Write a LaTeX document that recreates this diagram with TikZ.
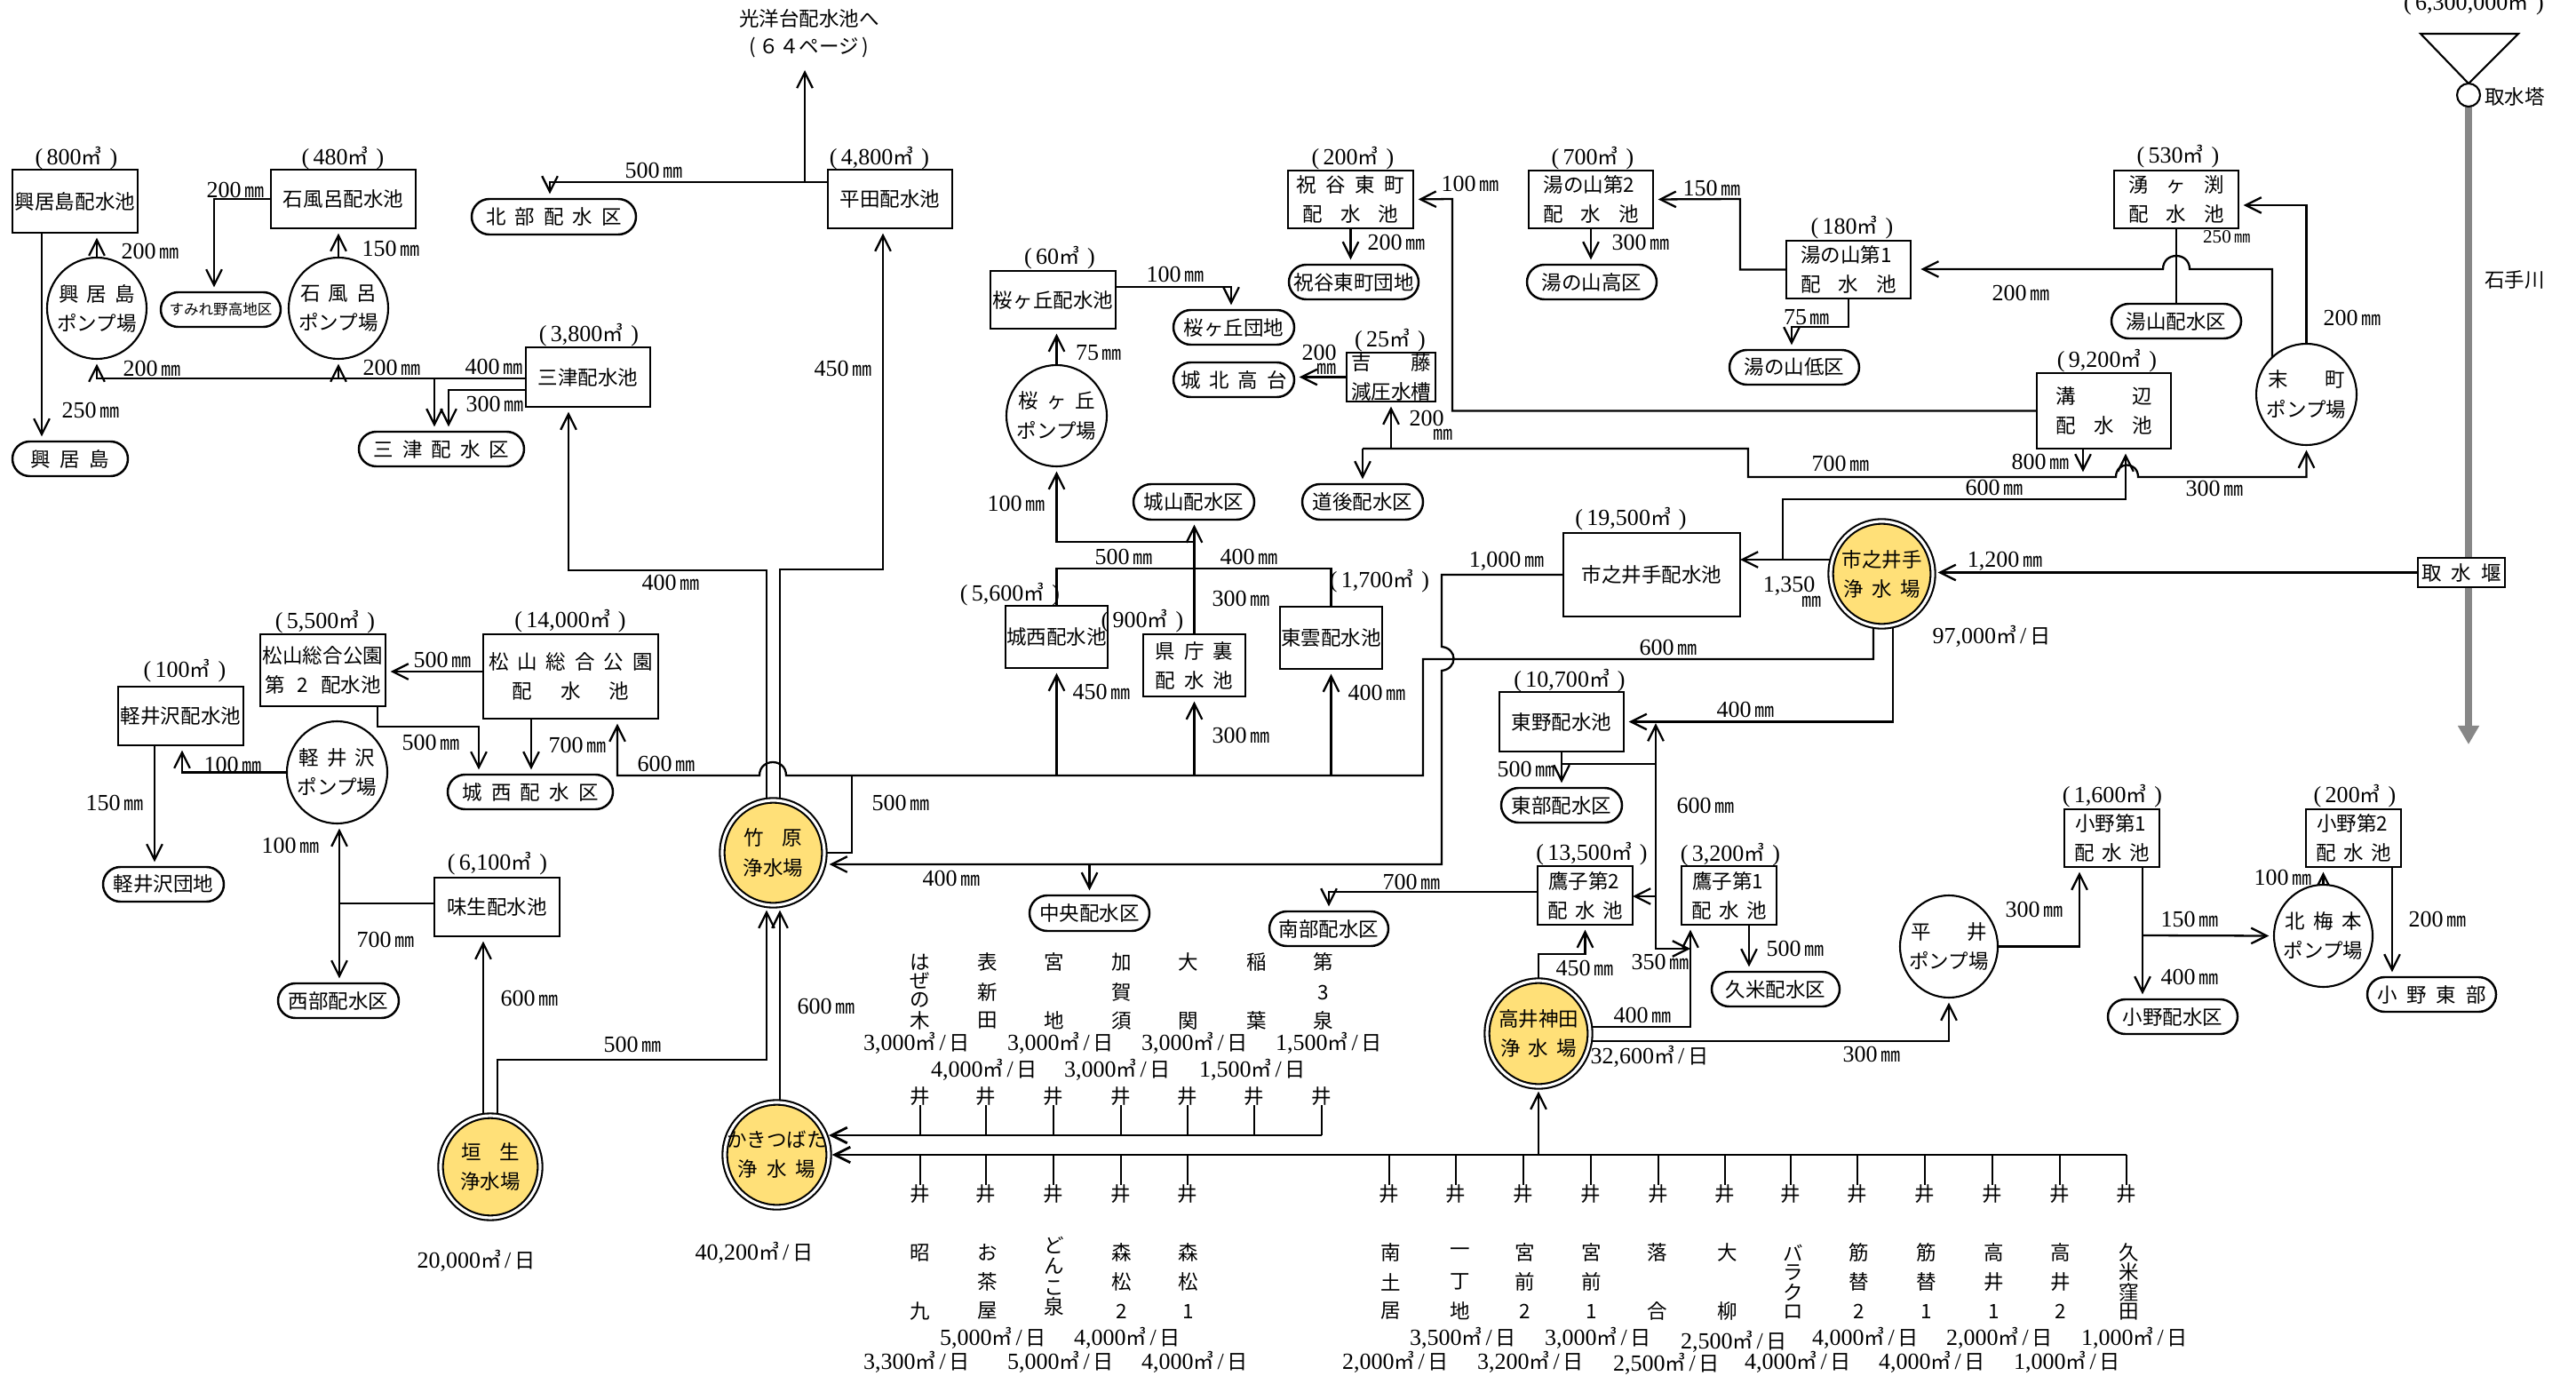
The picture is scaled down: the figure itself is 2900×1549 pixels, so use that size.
\documentclass[tikz,border=0pt]{standalone}
\usepackage{fontspec}
\setmainfont{Noto Sans CJK JP}
\newfontfamily\numf{Liberation Serif}
\usetikzlibrary{arrows.meta,shapes.geometric,shapes.misc,backgrounds}
\newlength\upx \setlength\upx{0.01cm}
\newcommand\Nn[1]{{\fontsize{7.4}{9}\selectfont\numf #1}}
\newcommand\Mmm[1]{\Nn{#1}\,{\fontsize{6.3}{9}\selectfont ㎜}}
\newcommand\Vl[1]{\Nn{(\,#1}{\fontsize{6.6}{9}\selectfont ㎥}\Nn{\,\,)}}
\newcommand\Pd[1]{\Nn{#1}{\fontsize{6.6}{9}\selectfont ㎥}\,\Nn{/}\,{\fontsize{6.6}{9}\selectfont 日}}
\newcommand\Sj[2]{\makebox[#1\upx][s]{#2}}
\newcounter{lbc}
\newcommand\Lb[3]{\stepcounter{lbc}\node[lab] (lab\arabic{lbc}) at (#1,#2) {#3};}
\newcommand\Shp[7]{%
  \pgfmathsetmacro\Qx{(#3+#5)/2}\pgfmathsetmacro\Qy{(#4+#6)/2}%
  \pgfmathsetmacro\Qw{(#5-#3)*0.01}\pgfmathsetmacro\Qh{(#6-#4)*0.01}%
  \node[#1,minimum width=\Qw cm,minimum height=\Qh cm] (#2) at (\Qx,\Qy) {#7};}
\tikzset{
  base/.style={inner sep=0pt,outer sep=0pt,align=center,font=\fontsize{6.4}{9.4}\selectfont},
  tank/.style={base,draw,rectangle,line width=0.7pt,fill=white},
  pumpst/.style={base,draw,ellipse,line width=0.6pt,fill=white,inner xsep=-8pt,inner ysep=-4pt},
  pill/.style={base,draw,rounded rectangle,line width=0.7pt,fill=white},
  plant/.style={base,draw,ellipse,line width=0.6pt,double=white,double distance=0.9pt,fill=plantyellow,inner xsep=-8pt,inner ysep=-4pt},
  lab/.style={inner sep=0pt,outer sep=0pt,align=center,font=\fontsize{6.4}{9.4}\selectfont},
  pipe/.style={line width=0.65pt},
  arr/.style={pipe,-{Straight Barb[length=5pt,width=5pt]},shorten >=1.6pt},
  arrz/.style={arr,shorten >=0pt},
  wellline/.style={line width=0.45pt},
  main/.style={line width=0.8pt},
  river/.style={line width=2.5pt,draw=rivergray},
}
\definecolor{plantyellow}{RGB}{255,224,120}
\definecolor{rivergray}{RGB}{135,135,135}
\begin{document}
\begin{tikzpicture}[x=0.01cm,y=-0.01cm]
\useasboundingbox (0,0) rectangle (2900,1549);
% ---------- reservoirs
\Shp{tank}{okib}{14}{191}{155}{262}{興居島配水池}
\Shp{tank}{ishib}{305}{191}{468}{257}{石風呂配水池}
\Shp{tank}{mitb}{592}{391}{732}{458}{三津配水池}
\Shp{tank}{hirb}{932}{191}{1072}{257}{平田配水池}
\Shp{tank}{sakb}{1115}{305}{1256}{370}{桜ヶ丘配水池}
\Shp{tank}{iwab}{1450}{192}{1591}{257}{\Sj{122}{祝\hfill 谷\hfill 東\hfill 町}\\\Sj{108}{配\hfill 水\hfill 池}}
\Shp{tank}{yu2b}{1721}{192}{1861}{257}{\Sj{107}{湯の山第2}\\\Sj{107}{配\hfill 水\hfill 池}}
\Shp{tank}{yosb}{1516}{397}{1616}{452}{\Sj{89}{吉\hfill 藤}\\減圧水槽}
\Shp{tank}{wakb}{2380}{192}{2520}{257}{\Sj{108}{湧\hfill ヶ\hfill 渕}\\\Sj{108}{配\hfill 水\hfill 池}}
\Shp{tank}{yu1b}{2011}{271}{2151}{336}{\Sj{108}{湯の山第1}\\\Sj{108}{配\hfill 水\hfill 池}}
\Shp{tank}{mizb}{2293}{420}{2444}{505}{\Sj{108}{溝\hfill 辺}\\\Sj{108}{配\hfill 水\hfill 池}}
\Shp{tank}{ichb}{1760}{600}{1959}{694}{市之井手配水池}
\Shp{tank}{matb}{544}{714}{741}{809}{\Sj{185}{松\hfill 山\hfill 総\hfill 合\hfill 公\hfill 園}\\\Sj{132}{配\hfill 水\hfill 池}}
\Shp{tank}{ma2b}{293}{714}{434}{795}{松山総合公園\\\Sj{131}{第\hfill 2\hfill 配水池}}
\Shp{tank}{karb}{133}{773}{274}{839}{軽井沢配水池}
\Shp{tank}{ajib}{489}{988}{630}{1054}{味生配水池}
\Shp{tank}{jsb}{1132}{682}{1247}{752}{城西配水池}
\Shp{tank}{kenb}{1287}{714}{1402}{784}{\Sj{88}{県\hfill 庁\hfill 裏}\\\Sj{88}{配\hfill 水\hfill 池}}
\Shp{tank}{higb}{1441}{683}{1556}{753}{東雲配水池}
\Shp{tank}{toub}{1688}{779}{1828}{846}{東野配水池}
\Shp{tank}{ta2b}{1731}{975}{1838}{1041}{\Sj{83}{鷹子第2}\\\Sj{85}{配\hfill 水\hfill 池}}
\Shp{tank}{ta1b}{1893}{975}{2000}{1041}{\Sj{83}{鷹子第1}\\\Sj{85}{配\hfill 水\hfill 池}}
\Shp{tank}{on1b}{2324}{911}{2431}{976}{\Sj{83}{小野第1}\\\Sj{85}{配\hfill 水\hfill 池}}
\Shp{tank}{on2b}{2596}{911}{2703}{976}{\Sj{83}{小野第2}\\\Sj{85}{配\hfill 水\hfill 池}}
\Shp{tank}{weir}{2722}{628}{2820}{661}{\Sj{89}{取\hfill 水\hfill 堰}}
% ---------- pump stations
\Shp{pumpst}{okip}{53}{290}{165}{404}{\Sj{86}{興\hfill 居\hfill 島}\\ポンプ場}
\Shp{pumpst}{ishp}{325}{290}{437}{404}{\Sj{86}{石\hfill 風\hfill 呂}\\ポンプ場}
\Shp{pumpst}{sakp}{1133}{411}{1246}{525}{\Sj{86}{桜\hfill ヶ\hfill 丘}\\ポンプ場}
\Shp{pumpst}{suep}{2540}{387}{2653}{501}{\Sj{86}{末\hfill 町}\\ポンプ場}
\Shp{pumpst}{karp}{323}{812}{436}{927}{\Sj{86}{軽\hfill 井\hfill 沢}\\ポンプ場}
\Shp{pumpst}{hirp}{2139}{1008}{2249}{1123}{\Sj{86}{平\hfill 井}\\ポンプ場}
\Shp{pumpst}{kitp}{2560}{996}{2671}{1111}{\Sj{86}{北\hfill 梅\hfill 本}\\ポンプ場}
\node[pumpst,inner sep=0pt,minimum width=0.26cm,minimum height=0.26cm] (tower) at (2779,107) {};
% ---------- purification plants
\Shp{plant}{tkh}{813}{901}{928}{1019}{\Sj{66}{竹\hfill 原}\\浄水場}
\Shp{plant}{habp}{496}{1256}{608}{1371}{\Sj{66}{垣\hfill 生}\\浄水場}
\Shp{plant}{kakp}{816}{1241}{933}{1359}{かきつばた\\\Sj{88}{浄\hfill 水\hfill 場}}
\Shp{plant}{ichip}{2061}{587}{2176}{705}{市之井手\\\Sj{86}{浄\hfill 水\hfill 場}}
\Shp{plant}{takp}{1674}{1104}{1790}{1223}{高井神田\\\Sj{86}{浄\hfill 水\hfill 場}}
% ---------- supply districts
\Shp{pill}{sumi}{181}{329}{316}{368}{{\fontsize{4.7}{6}\selectfont すみれ野高地区}}
\Shp{pill}{okid}{14}{497}{144}{536}{\Sj{89}{興\hfill 居\hfill 島}}
\Shp{pill}{mitd}{404}{486}{590}{525}{\Sj{153}{三\hfill 津\hfill 配\hfill 水\hfill 区}}
\Shp{pill}{hokd}{531}{224}{716}{264}{\Sj{153}{北\hfill 部\hfill 配\hfill 水\hfill 区}}
\Shp{pill}{sakd}{1321}{349}{1457}{388}{桜ヶ丘団地}
\Shp{pill}{johd}{1321}{408}{1457}{447}{\Sj{119}{城\hfill 北\hfill 高\hfill 台}}
\Shp{pill}{iwad}{1451}{298}{1597}{337}{祝谷東町団地}
\Shp{pill}{yuhd}{1719}{298}{1865}{337}{湯の山高区}
\Shp{pill}{yud}{2377}{342}{2523}{381}{湯山配水区}
\Shp{pill}{yuld}{1947}{394}{2093}{433}{湯の山低区}
\Shp{pill}{shirod}{1276}{545}{1412}{585}{城山配水区}
\Shp{pill}{dogod}{1466}{545}{1602}{585}{道後配水区}
\Shp{pill}{jsd}{504}{872}{690}{911}{\Sj{153}{城\hfill 西\hfill 配\hfill 水\hfill 区}}
\Shp{pill}{kard}{116}{976}{252}{1015}{軽井沢団地}
\Shp{pill}{seid}{313}{1107}{449}{1146}{西部配水区}
\Shp{pill}{chud}{1159}{1008}{1294}{1048}{中央配水区}
\Shp{pill}{nand}{1429}{1026}{1563}{1065}{南部配水区}
\Shp{pill}{toud}{1690}{887}{1826}{926}{東部配水区}
\Shp{pill}{kumd}{1927}{1094}{2071}{1133}{久米配水区}
\Shp{pill}{onod}{2373}{1125}{2519}{1164}{小野配水区}
\Shp{pill}{onhd}{2665}{1100}{2810}{1139}{\Sj{122}{小\hfill 野\hfill 東\hfill 部}}
% ---------- wells
\foreach \i/\xx in {1/1036,2/1110,3/1186,4/1262,5/1337,6/1412,7/1488}{
  \node[lab] (wt\i) at (\xx,1234) {井};}
\foreach \i/\xx in {1/1036,2/1110,3/1186,4/1262,5/1337,6/1564,7/1639,8/1715,9/1791,10/1867,11/1942,12/2016,13/2091,14/2167,15/2243,16/2319,17/2394}{
  \node[lab] (wb\i) at (\xx,1344) {井};}
% ---------- capacities
\Lb{86}{178}{\Vl{800}}
\Lb{386}{178}{\Vl{480}}
\Lb{663}{377}{\Vl{3,800}}
\Lb{990}{178}{\Vl{4,800}}
\Lb{1193}{290}{\Vl{60}}
\Lb{1523}{178}{\Vl{200}}
\Lb{1793}{178}{\Vl{700}}
\Lb{1565}{383}{\Vl{25}}
\Lb{2452}{176}{\Vl{530}}
\Lb{2085}{256}{\Vl{180}}
\Lb{2372}{406}{\Vl{9,200}}
\Lb{1836}{584}{\Vl{19,500}}
\Lb{642}{699}{\Vl{14,000}}
\Lb{366}{700}{\Vl{5,500}}
\Lb{208}{755}{\Vl{100}}
\Lb{560}{972}{\Vl{6,100}}
\Lb{1137}{669}{\Vl{5,600}}
\Lb{1286}{699}{\Vl{900}}
\Lb{1553}{654}{\Vl{1,700}}
\Lb{1767}{766}{\Vl{10,700}}
\Lb{1792}{961}{\Vl{13,500}}
\Lb{1948}{962}{\Vl{3,200}}
\Lb{2378}{896}{\Vl{1,600}}
\Lb{2651}{896}{\Vl{200}}
\Lb{2785}{4}{\Vl{6,300,000}}
% ---------- other labels
\node[lab] (koyo1) at (911,21) {光洋台配水池へ};
\node[lab] (koyo2) at (911,54) {(\,６４ページ\,)};
\Lb{2831}{109}{取水塔}
\Lb{2831}{315}{石手川}
% ---------- pipe diameters
\Lb{736}{192}{\Mmm{500}}
\Lb{265}{214}{\Mmm{200}}
\Lb{102}{462}{\Mmm{250}}
\Lb{169}{283}{\Mmm{200}}
\Lb{440}{280}{\Mmm{150}}
\Lb{171}{415}{\Mmm{200}}
\Lb{441}{414}{\Mmm{200}}
\Lb{556}{413}{\Mmm{400}}
\Lb{557}{455}{\Mmm{300}}
\Lb{755}{656}{\Mmm{400}}
\Lb{949}{415}{\Mmm{450}}
\Lb{498}{743}{\Mmm{500}}
\Lb{485}{836}{\Mmm{500}}
\Lb{650}{839}{\Mmm{700}}
\Lb{750}{860}{\Mmm{600}}
\Lb{262}{861}{\Mmm{100}}
\Lb{129}{904}{\Mmm{150}}
\Lb{327}{952}{\Mmm{100}}
\Lb{434}{1058}{\Mmm{700}}
\Lb{596}{1124}{\Mmm{600}}
\Lb{712}{1176}{\Mmm{500}}
\Lb{930}{1133}{\Mmm{600}}
\Lb{1265}{627}{\Mmm{500}}
\Lb{1406}{627}{\Mmm{400}}
\Lb{1397}{674}{\Mmm{300}}
\Lb{1240}{779}{\Mmm{450}}
\Lb{1397}{828}{\Mmm{300}}
\Lb{1550}{780}{\Mmm{400}}
\Lb{1014}{904}{\Mmm{500}}
\Lb{1071}{989}{\Mmm{400}}
\Lb{1696}{632}{\Mmm{1,000}}
\Lb{1589}{993}{\Mmm{700}}
\Lb{1323}{309}{\Mmm{100}}
\Lb{1237}{397}{\Mmm{75}}
\Lb{1144}{567}{\Mmm{100}}
\Lb{1572}{273}{\Mmm{200}}
\Lb{1847}{273}{\Mmm{300}}
\Lb{1655}{207}{\Mmm{100}}
\Lb{1927}{212}{\Mmm{150}}
\Lb{1485}{397}{\Nn{200}}
\Lb{1494}{415}{{\fontsize{6.3}{9}\selectfont ㎜}}
\Lb{1606}{471}{\Nn{200}}
\Lb{1625}{489}{{\fontsize{6.3}{9}\selectfont ㎜}}
\Lb{2275}{330}{\Mmm{200}}
\Lb{2507}{267}{{\fontsize{6}{9}\selectfont\numf 250}\,{\fontsize{5.2}{9}\selectfont ㎜}}
\Lb{2648}{358}{\Mmm{200}}
\Lb{2034}{357}{\Mmm{75}}
\Lb{2297}{520}{\Mmm{800}}
\Lb{2072}{522}{\Mmm{700}}
\Lb{2493}{550}{\Mmm{300}}
\Lb{2245}{549}{\Mmm{600}}
\Lb{2257}{632}{\Mmm{1,200}}
\Lb{2014}{660}{\Nn{1,350}}
\Lb{2040}{677}{{\fontsize{6.3}{9}\selectfont ㎜}}
\Lb{1878}{729}{\Mmm{600}}
\Lb{1965}{799}{\Mmm{400}}
\Lb{1718}{866}{\Mmm{500}}
\Lb{1920}{907}{\Mmm{600}}
\Lb{1784}{1090}{\Mmm{450}}
\Lb{1869}{1083}{\Mmm{350}}
\Lb{1849}{1143}{\Mmm{400}}
\Lb{2021}{1068}{\Mmm{500}}
\Lb{2107}{1187}{\Mmm{300}}
\Lb{2290}{1024}{\Mmm{300}}
\Lb{2465}{1035}{\Mmm{150}}
\Lb{2465}{1100}{\Mmm{400}}
\Lb{2570}{988}{\Mmm{100}}
\Lb{2744}{1035}{\Mmm{200}}
% ---------- daily outputs
\Lb{2242}{716}{\Pd{97,000}}
\Lb{1857}{1189}{\Pd{32,600}}
\Lb{536}{1419}{\Pd{20,000}}
\Lb{849}{1410}{\Pd{40,200}}
\foreach \xx/\val in {1032/3{,}000,1194/3{,}000,1345/3{,}000,1496/1{,}500}{\Lb{\xx}{1174}{\Pd{\val}}}
\foreach \xx/\val in {1108/4{,}000,1258/3{,}000,1410/1{,}500}{\Lb{\xx}{1204}{\Pd{\val}}}
\foreach \xx/\val in {1118/5{,}000,1269/4{,}000,1647/3{,}500,1799/3{,}000,2100/4{,}000,2251/2{,}000,2403/1{,}000}{\Lb{\xx}{1506}{\Pd{\val}}}
\Lb{1952}{1510}{\Pd{2,500}}
\foreach \xx/\val in {1032/3{,}300,1194/5{,}000,1345/4{,}000,1571/2{,}000,1723/3{,}200,2024/4{,}000,2175/4{,}000,2327/1{,}000}{\Lb{\xx}{1533}{\Pd{\val}}}
\Lb{1876}{1535}{\Pd{2,500}}
% ---------- well names
\foreach \xx/\a/\b/\c in {1112/表/新/田,1187/宮/ /地,1263/加/賀/須,1338/大/ /関,1415/稲/ /葉,1490/第/3/泉}{
  \Lb{\xx}{1083}{\a}\Lb{\xx}{1117}{\b}\Lb{\xx}{1149}{\c}}
\foreach \c/\yy in {は/1083,ぜ/1104,の/1126,木/1149}{\Lb{1036}{\yy}{\c}}
\foreach \xx/\a/\b/\c in {1036/昭/ /九,1112/お/茶/屋,1263/森/松/2,1338/森/松/1,1566/南/土/居,1644/一/丁/地,1717/宮/前/2,1792/宮/前/1,1866/落/ /合,1945/大/ /柳,2093/筋/替/2,2169/筋/替/1,2245/高/井/1,2320/高/井/2}{
  \Lb{\xx}{1410}{\a}\Lb{\xx}{1443}{\b}\Lb{\xx}{1476}{\c}}
\foreach \c/\yy in {ど/1402,ん/1425,こ/1450,泉/1471}{\Lb{1187}{\yy}{\c}}
\foreach \c/\yy in {バ/1410,ラ/1433,ク/1455,ロ/1477}{\Lb{2019}{\yy}{\c}}
\foreach \c/\yy in {久/1410,米/1432,窪/1455,田/1477}{\Lb{2397}{\yy}{\c}}
% ---------- connectors
\begin{scope}[on background layer]
\fill[white] (0,0) rectangle (2900,1549);
% intake
\coordinate (tri1) at (2725,38); \coordinate (tri2) at (2835,38);
\draw[line width=0.6pt] (tri1) -- (tri2) -- (tower.north) -- cycle;
\draw[river] (tower.south) -- (weir.north -| tower.south);
\coordinate (rvend) at (2779,838);
\draw[river,-{Triangle[length=6pt,width=6.5pt]}] (weir.south -| tower.south) -- (rvend);
% north-west
\draw[arr] (okib.south -| 47,0) -- (okid.north -| 47,0);
\draw[arr] (okip.north) -- (okib.south -| okip.north);
\draw[arr] (ishp.north) -- (ishib.south -| ishp.north);
\draw[arr] (ishib.west) -| (sumi.north -| 241,0);
\coordinate (m1) at (mitb.west |- 0,426);
\draw[arr] (m1) -| (okip.south);
\draw[arr] (m1) -| (ishp.south);
\draw[arr] (489,426) -- (mitd.north -| 489,0);
\draw[arr] (mitb.west |- 0,439) -| (mitd.north -| 505,0);
\draw[arr] (tkh.center -| 863,0) |- (640,642) -- (mitb.south -| 640,0);
\draw[arr] (tkh.center -| 878,0) |- (994,641) -- (hirb.south -| 994,0);
\coordinate (h1) at (hirb.west |- 0,205);
\draw[arr] (h1) -| (hokd.north -| 619,0);
\coordinate (koyoe) at (906,79);
\draw[arr,shorten >=0pt] (906,205) -- (koyoe);
% sakuragaoka etc
\draw[arr] (sakp.north) -- (sakb.south -| sakp.north);
\draw[arr] (sakb.east |- 0,323) -| (sakd.north -| 1386,0);
\draw[arr] (kenb.north) -- (shirod.south -| kenb.north);
\draw[arr] (kenb.north |- 0,610) -| (sakp.south);
\draw[pipe] (jsb.north) |- (kenb.north |- 0,640) -| (higb.north);
\draw[arr] (ichip.center -| 2109,0) -- (2109,742) -- (1602,742) -- (1602,873) -- (885,873) .. controls (885,853) and (855,853) .. (855,873) -- (695,873) -- (matb.south -| 695,0);
\draw[arr] (jsb.south |- 0,873) -- (jsb.south);
\draw[arr] (kenb.south |- 0,873) -- (kenb.south);
\draw[arr] (higb.south |- 0,873) -- (higb.south);
\draw[pipe] (tkh.east) -| (959,873);
\draw[arr] (ichb.west) -- (1623,647) -- (1623,728) .. controls (1641,730) and (1641,753) .. (1623,755) -- (1623,973) -- (tkh.east |- 0,973);
\draw[arr] (chud.north |- 0,973) -- (chud.north);
\draw[arrz] (ichip.center |- 0,630) -- (ichb.east |- 0,630);
\draw[arr] (2007,630) |- (2393,562) -- (mizb.south -| 2393,0);
\draw[arr] (weir.west) -- (ichip.east |- weir.west);
\coordinate (p700) at (2345,537);
\draw[arr] (mizb.south -| p700) -- (p700);
\draw[arr] (dogod.north |- 0,505) -- (dogod.north);
\draw[arr] (yosb.south |- 0,505) -- (yosb.south);
\draw[arr] (1534,505) -- (1968,505) -- (1968,537) -- (2382,537) .. controls (2382,519) and (2407,519) .. (2407,537) -- (2596,537) -- (suep.south |- 0,537) -- (suep.south);
\draw[arr] (yosb.west) -- (johd.east |- yosb.west);
\draw[arr] (iwab.south) -- (iwad.north -| iwab.south);
\draw[arr] (yu2b.south) -- (yuhd.north -| yu2b.south);
\draw[arr] (mizb.west) -| (1635,224) -- (iwab.east);
\draw[arr] (yu1b.west) -| (1959,224) -- (yu2b.east);
\draw[arr,shorten >=3.2pt] (suep.center -| 2558,0) -- (2558,303) -- (2465,303) .. controls (2465,283) and (2435,283) .. (2435,303) -- (yu1b.east |- 0,303);
\draw[pipe] (wakb.south) -- (yud.north);
\draw[arr] (suep.north) |- (wakb.east |- 0,231);
\draw[arr] (yu1b.south) |- (2017,368) -- (yuld.north -| 2017,0);
% takai-kanda
\draw[arr] (takp.south |- 0,1300) -- (takp.south);
\draw[arr] (takp.center) |- (ta2b.south |- 0,1074) -- (ta2b.south);
\draw[arr] (takp.center |- 0,1156) -| (ta1b.south -| 1903,0);
\draw[arr] (takp.center |- 0,1172) -| (hirp.south);
\coordinate (nv) at (1864,860);
\draw[arr,shorten >=0.6pt] (nv) -- (1864,812);
\draw[arrz] (nv) |- (1903,1068);
\draw[arrz] (1864,1009) -- (ta2b.east |- 0,1009);
\draw[pipe] (toub.south |- nv) -- (nv);
\draw[arr] (toub.south) -- (toud.north);
\draw[arr] (ichip.center -| 2131,0) |- (toub.east);
\draw[arr] (ta2b.west |- 0,1004) -| (nand.north -| 1496,0);
\draw[arr] (ta1b.south -| 1969,0) -- (kumd.north -| 1969,0);
\draw[arr] (hirp.east) -| (on1b.south -| 2341,0);
\draw[arr] (on1b.south -| 2412,0) -- (onod.north -| 2412,0);
\draw[arr] (2412,1053) -- (kitp.west);
\draw[arr] (kitp.north) -- (on2b.south -| kitp.north);
\draw[arr] (on2b.south -| 2693,0) -- (onhd.north -| 2693,0);
% west
\draw[arr] (matb.west |- 0,756) -- (ma2b.east |- 0,756);
\draw[arr] (ma2b.south -| 425,0) |- (539,818) -- (jsd.north -| 539,0);
\draw[arr] (matb.south -| 598,0) -- (jsd.north -| 598,0);
\draw[arr] (karp.west) -| (karb.south -| 205,0);
\draw[arr] (karb.south -| 174,0) -- (kard.north -| 174,0);
\coordinate (aj) at (382,1017);
\draw[pipe] (ajib.west |- aj) -- (aj);
\draw[arr] (aj) -- (karp.south -| aj);
\draw[arr] (aj) -- (seid.north -| aj);
\draw[arr] (habp.center -| 544,0) -- (ajib.south -| 544,0);
\draw[arr] (habp.center -| 560,0) |- (863,1193) -- (tkh.south -| 863,0);
\draw[arr] (kakp.center -| 878,0) -- (tkh.south -| 878,0);
% well collectors
\coordinate (topend) at (wt7.south |- 0,1278);
\coordinate (botend) at (wb17.north |- 0,1300);
\draw[main,-{Straight Barb[length=5pt,width=5pt]}] (topend) -- (kakp.east |- topend);
\draw[main,-{Straight Barb[length=5pt,width=5pt]},shorten >=1pt] (botend) -- (kakp.east |- botend);
\foreach \i in {1,...,7}{\draw[wellline] (wt\i.south) -- (wt\i.south |- topend);}
\foreach \i in {1,...,17}{\draw[wellline] (wb\i.north) -- (wb\i.north |- botend);}
\end{scope}
\end{tikzpicture}
\end{document}
